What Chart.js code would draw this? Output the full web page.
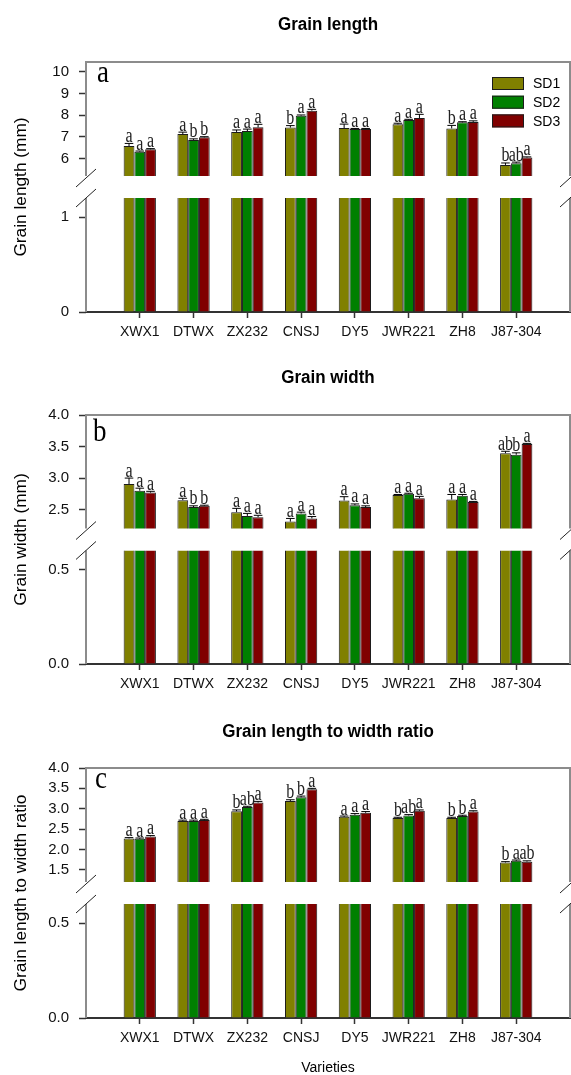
<!DOCTYPE html>
<html lang="en">
<head>
<meta charset="UTF-8">
<title>Grain length, width and length/width ratio</title>
<script src="https://cdn.jsdelivr.net/npm/chart.js"></script>
<style>
  body { margin: 0; background: #fff; }
  #wrap { position: relative; width: 571px; height: 1075px; }
  canvas { position: absolute; left: 0; }
</style>
</head>
<body>
<div id="wrap">
  <canvas id="chartA" width="571" height="355" style="top:0"></canvas>
  <canvas id="chartB" width="571" height="355" style="top:355px"></canvas>
  <canvas id="chartC" width="571" height="365" style="top:710px"></canvas>
</div>
<script>
// categories and series
const varieties = ['XWX1', 'DTWX', 'ZX232', 'CNSJ', 'DY5', 'JWR221', 'ZH8', 'J87-304'];
const seriesNames = ['SD1', 'SD2', 'SD3'];
const seriesColors = ['#808000', '#008000', '#800000'];

// grain length (mm)
const lengthSD1 = [6.58, 7.13, 7.23, 7.43, 7.41, 7.58, 7.39, 5.71];
const lengthSD2 = [6.32, 6.86, 7.27, 7.98, 7.36, 7.78, 7.67, 5.79];
const lengthSD3 = [6.43, 6.98, 7.44, 8.21, 7.36, 7.87, 7.69, 6.05];
const lengthErr1 = [0.12, 0.09, 0.09, 0.09, 0.18, 0.05, 0.14, 0.09];
const lengthErr2 = [0.03, 0.05, 0.09, 0.03, 0.03, 0.03, 0.03, 0.05];
const lengthErr3 = [0.03, 0.03, 0.14, 0.06, 0.03, 0.17, 0.05, 0.03];
const lengthSig1 = ['a', 'a', 'a', 'b', 'a', 'a', 'b', 'b'];
const lengthSig2 = ['a', 'b', 'a', 'a', 'a', 'a', 'a', 'ab'];
const lengthSig3 = ['a', 'b', 'a', 'a', 'a', 'a', 'a', 'a'];

// grain width (mm)
const widthSD1 = [2.905, 2.65, 2.46, 2.31, 2.645, 2.73, 2.66, 3.395];
const widthSD2 = [2.80, 2.54, 2.40, 2.44, 2.57, 2.75, 2.72, 3.37];
const widthSD3 = [2.77, 2.56, 2.38, 2.36, 2.54, 2.68, 2.62, 3.54];
const widthErr1 = [0.095, 0.03, 0.06, 0.05, 0.06, 0.01, 0.08, 0.03];
const widthErr2 = [0.04, 0.02, 0.04, 0.02, 0.02, 0.01, 0.02, 0.03];
const widthErr3 = [0.02, 0.01, 0.03, 0.03, 0.02, 0.03, 0.01, 0.01];
const widthSig1 = ['a', 'a', 'a', 'a', 'a', 'a', 'a', 'ab'];
const widthSig2 = ['a', 'b', 'a', 'a', 'a', 'a', 'a', 'b'];
const widthSig3 = ['a', 'b', 'a', 'a', 'a', 'a', 'a', 'a'];

// length to width ratio
const ratioSD1 = [2.27, 2.70, 2.94, 3.19, 2.80, 2.77, 2.77, 1.68];
const ratioSD2 = [2.26, 2.70, 3.04, 3.28, 2.85, 2.835, 2.82, 1.72];
const ratioSD3 = [2.32, 2.72, 3.15, 3.48, 2.90, 2.95, 2.93, 1.70];
const ratioErr1 = [0.02, 0.02, 0.03, 0.03, 0.02, 0.02, 0.02, 0.02];
const ratioErr2 = [0.02, 0.02, 0.02, 0.03, 0.03, 0.02, 0.02, 0.02];
const ratioErr3 = [0.02, 0.02, 0.03, 0.02, 0.03, 0.02, 0.02, 0.02];
const ratioSig1 = ['a', 'a', 'b', 'b', 'a', 'b', 'b', 'b'];
const ratioSig2 = ['a', 'a', 'ab', 'b', 'a', 'ab', 'b', 'a'];
const ratioSig3 = ['a', 'a', 'a', 'a', 'a', 'a', 'a', 'ab'];

// tick labels (upper and lower part of the broken axis)
const lengthTopTicks = [6, 7, 8, 9, 10];
const lengthBotTicks = [0, 1];
const widthTopTicks = [2.5, 3.0, 3.5, 4.0];
const widthBotTicks = [0.0, 0.5];
const ratioTopTicks = [1.5, 2.0, 2.5, 3.0, 3.5, 4.0];
const ratioBotTicks = [0.0, 0.5];

const SANS = "'Liberation Sans', Arial, sans-serif";
const SERIF = "'Liberation Serif', 'Times New Roman', serif";
const SEG = 114, GAP = 22;

function stretchText(ctx, txt, x, y, font, align, base, sy, color) {
  ctx.save();
  ctx.translate(x, y);
  ctx.scale(1, sy);
  ctx.font = font;
  ctx.textAlign = align;
  ctx.textBaseline = base;
  ctx.fillStyle = color || '#000';
  ctx.fillText(txt, 0, 0);
  ctx.restore();
}

function makePanel(id, o) {
  // upper scale gets extra room below `lo` that acts as the gap of the break
  const topMin = o.hi - (o.hi - o.lo) * (SEG + GAP) / SEG;

  const datasets = [];
  ['yTop', 'yBot'].forEach(axis => {
    o.series.forEach((vals, k) => {
      datasets.push({
        label: seriesNames[k],
        data: vals.map((v, i) => ({ x: i, y: v })),
        yAxisID: axis,
        stack: 's' + k,
        backgroundColor: seriesColors[k],
        borderColor: '#1c1c1c',
        borderWidth: 1,
        barPercentage: 1,
        categoryPercentage: 0.6
      });
    });
  });

  const yAxis = (ticksArr, extra) => Object.assign({
    type: 'linear', position: 'left', stack: 'y', stacked: false,
    afterBuildTicks: s => { s.ticks = ticksArr.map(v => ({ value: v })); },
    afterFit: s => { s.width = 56; },
    ticks: { autoSkip: false, font: { family: SANS, size: 15 }, color: '#111', padding: 10,
             callback: v => Number(v).toFixed(o.decimals) },
    grid: { drawOnChartArea: false, tickLength: 7, tickColor: '#333', tickWidth: 1.5 },
    border: { display: false }
  }, extra);

  const panelPlugin = {
    id: 'panel' + id,
    beforeDatasetDraw(chart, args) {
      const ctx = chart.ctx, a = chart.chartArea;
      const ys = chart.scales[args.meta.yAxisID];
      const bottom = args.meta.yAxisID === 'yTop' ? ys.getPixelForValue(o.lo) : ys.bottom;
      ctx.save();
      ctx.beginPath();
      ctx.rect(a.left, ys.top, a.right - a.left, bottom - ys.top);
      ctx.clip();
    },
    afterDatasetDraw(chart) {
      chart.ctx.restore();
    },
    afterDraw(chart) {
      const ctx = chart.ctx, a = chart.chartArea;
      const yT = chart.scales.yTop, yB = chart.scales.yBot;
      const brk = yT.getPixelForValue(o.lo);
      ctx.save();

      // frame
      ctx.strokeStyle = '#8c8c8c';
      ctx.lineWidth = 2;
      ctx.beginPath();
      ctx.moveTo(a.left, brk); ctx.lineTo(a.left, a.top); ctx.lineTo(a.right, a.top); ctx.lineTo(a.right, brk);
      ctx.moveTo(a.left, yB.top); ctx.lineTo(a.left, a.bottom);
      ctx.moveTo(a.right, yB.top); ctx.lineTo(a.right, a.bottom);
      ctx.stroke();

      // break marks
      ctx.strokeStyle = '#222';
      ctx.lineWidth = 1;
      [a.left, a.right].forEach(x => {
        [brk + 2, yB.top].forEach(y => {
          ctx.beginPath();
          ctx.moveTo(x - 10, y + 9);
          ctx.lineTo(x + 10, y - 9);
          ctx.stroke();
        });
      });

      // error bars and letters
      chart.data.datasets.forEach((ds, di) => {
        if (ds.yAxisID !== 'yTop') return;
        const meta = chart.getDatasetMeta(di);
        meta.data.forEach((el, i) => {
          const v = o.series[di][i], e = o.errs[di][i];
          const yE = yT.getPixelForValue(v + e);
          const hw = el.width * 0.4;
          ctx.strokeStyle = '#000';
          ctx.lineWidth = 1;
          ctx.beginPath();
          ctx.moveTo(el.x, el.y); ctx.lineTo(el.x, yE);
          ctx.moveTo(el.x - hw, yE); ctx.lineTo(el.x + hw, yE);
          ctx.stroke();
          stretchText(ctx, o.sigs[di][i], el.x, yE - 1.5, '16px ' + SERIF, 'center', 'alphabetic', 1.25, '#222');
        });
      });

      // panel letter
      stretchText(ctx, o.tag, a.left + o.tagDX, a.top + o.tagDY, '27px ' + SERIF, 'left', 'alphabetic', 1.15);

      // title
      stretchText(ctx, o.title, (a.left + a.right) / 2, o.titleY, 'bold 17px ' + SANS, 'center', 'middle', 1.1);

      // y title
      ctx.save();
      ctx.translate(22, (a.top + a.bottom) / 2);
      ctx.rotate(-Math.PI / 2);
      ctx.scale(1.08, 1);
      ctx.font = '16px ' + SANS;
      ctx.textAlign = 'center';
      ctx.textBaseline = 'middle';
      ctx.fillStyle = '#000';
      ctx.fillText(o.yTitle, 0, 0);
      ctx.restore();

      // legend
      if (o.legend) {
        seriesNames.forEach((name, k) => {
          const y = 77 + k * 18.7;
          ctx.fillStyle = seriesColors[k];
          ctx.fillRect(492, y, 32, 13);
          ctx.strokeStyle = '#1c1c1c';
          ctx.lineWidth = 1;
          ctx.strokeRect(492.5, y + 0.5, 31, 12);
          stretchText(ctx, name, 533, y + 7, '14px ' + SANS, 'left', 'middle', 1.1);
        });
      }

      // x title
      if (o.xTitle) {
        stretchText(ctx, o.xTitle, (a.left + a.right) / 2, o.xTitleY, '14px ' + SANS, 'center', 'middle', 1.1);
      }
      ctx.restore();
    }
  };

  return new Chart(document.getElementById(id), {
    type: 'bar',
    data: { datasets },
    options: {
      responsive: false,
      animation: false,
      layout: { padding: { top: o.padTop, bottom: o.padBottom, left: 30, right: 1 } },
      plugins: { legend: { display: false }, tooltip: { enabled: false } },
      scales: {
        x: {
          type: 'linear', min: -1, max: 8, offset: false,
          afterBuildTicks: s => { s.ticks = varieties.map((_, i) => ({ value: i })); },
          afterFit: s => { s.height = 30; },
          ticks: { autoSkip: false, maxRotation: 0, padding: 6, font: { family: SANS, size: 14 }, color: '#111',
                   callback: v => varieties[v] },
          grid: { drawOnChartArea: false, offset: false, tickLength: 6, tickColor: '#333', tickWidth: 1.5 },
          border: { display: true, color: '#333', width: 2 }
        },
        yBot: yAxis(o.botTicks, { min: 0, max: o.botMax, stackWeight: SEG, weight: 0 }),
        yTop: yAxis(o.topTicks, { min: topMin, max: o.hi, stackWeight: SEG + GAP, weight: 1 })
      }
    },
    plugins: [panelPlugin]
  });
}

makePanel('chartA', {
  title: 'Grain length', titleY: 25, yTitle: 'Grain length (mm)', tag: 'a', tagDX: 11, tagDY: 20,
  series: [lengthSD1, lengthSD2, lengthSD3], errs: [lengthErr1, lengthErr2, lengthErr3],
  sigs: [lengthSig1, lengthSig2, lengthSig3],
  lo: 5.2, hi: 10.45, botMax: 1.2, topTicks: lengthTopTicks, botTicks: lengthBotTicks, decimals: 0,
  padTop: 62, padBottom: 13, legend: true
});

makePanel('chartB', {
  title: 'Grain width', titleY: 23, yTitle: 'Grain width (mm)', tag: 'b', tagDX: 7, tagDY: 26,
  series: [widthSD1, widthSD2, widthSD3], errs: [widthErr1, widthErr2, widthErr3],
  sigs: [widthSig1, widthSig2, widthSig3],
  lo: 2.2, hi: 4.0, botMax: 0.6, topTicks: widthTopTicks, botTicks: widthBotTicks, decimals: 1,
  padTop: 60, padBottom: 16
});

makePanel('chartC', {
  title: 'Grain length to width ratio', titleY: 22, yTitle: 'Grain length to width ratio', tag: 'c', tagDX: 9, tagDY: 20,
  series: [ratioSD1, ratioSD2, ratioSD3], errs: [ratioErr1, ratioErr2, ratioErr3],
  sigs: [ratioSig1, ratioSig2, ratioSig3],
  lo: 1.2, hi: 4.0, botMax: 0.6, topTicks: ratioTopTicks, botTicks: ratioBotTicks, decimals: 1,
  padTop: 58, padBottom: 27, xTitle: 'Varieties', xTitleY: 358
});
</script>
</body>
</html>
